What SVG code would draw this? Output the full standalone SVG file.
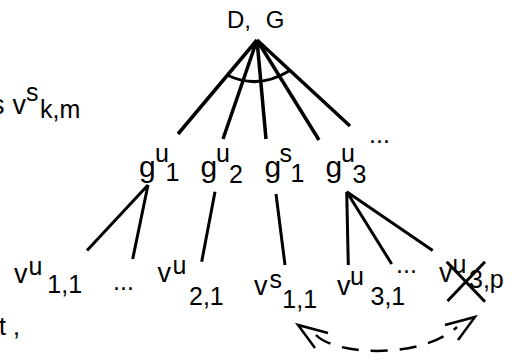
<svg xmlns="http://www.w3.org/2000/svg" width="514" height="360" viewBox="0 0 514 360">
<style>
text{font-family:"Liberation Sans",Arial,sans-serif;fill:#000;font-size:25px}
.g{font-size:30px}
.v{font-size:27px}
.e{stroke:#000;stroke-width:3;fill:none;stroke-linecap:butt}
.t{stroke-width:3.5}
.d{stroke:#000;stroke-width:2.5;fill:none;stroke-dasharray:17 12}
.h{stroke:#000;stroke-width:2.5;fill:none;stroke-linejoin:miter}
</style>
<rect width="514" height="360" fill="#fff"/>
<g id="connectors">
<path class="e t" d="M257,40L178,134M257,40L223,139M257,40L266,139M257,40L319,140M257,40L350,126"/>
<path class="e" d="M227,75Q258,90 289,71"/>
<path class="e" d="M148,185L87,250.5M148,185L132.7,259M215,191.7L201.7,261.7M276,194L285,265M346.7,191.7L348.3,265M346.7,191.7L391.7,264M346.7,191.7L432.7,250.5"/>
<path class="d" d="M316,335C335,355 420,360 457,327"/>
<path class="h" d="M328,333L298,325L315,348"/>
<path class="h" d="M445,325L475,317L458,340"/>
</g>
<g id="left-text">
<text class="v" x="-9" y="114">s</text>
<text><tspan class="v" x="12.5" y="114">v</tspan><tspan x="26" y="101">s</tspan><tspan x="40" y="118">k,m</tspan></text>
<text x="-1" y="335">t ,</text>
</g>
<g id="node-DG"><text x="227" y="28" style="font-size:24px;word-spacing:8px">D, G</text></g>
<g id="node-gu1"><text><tspan class="g" x="139" y="177">g</tspan><tspan x="155" y="162">u</tspan><tspan x="165.5" y="181">1</tspan></text></g>
<g id="node-gu2"><text><tspan class="g" x="200.5" y="177">g</tspan><tspan x="216" y="162">u</tspan><tspan x="229" y="183">2</tspan></text></g>
<g id="node-gs1"><text><tspan class="g" x="264.5" y="177">g</tspan><tspan x="279.5" y="162">s</tspan><tspan x="290.5" y="182">1</tspan></text></g>
<g id="node-gu3"><text><tspan class="g" x="325.5" y="177">g</tspan><tspan x="341" y="162">u</tspan><tspan x="352.5" y="183">3</tspan></text></g>
<g id="node-dots-g"><text x="369" y="143">...</text></g>
<g id="node-vu11"><text><tspan class="v" x="14" y="283">v</tspan><tspan x="28.5" y="275">u</tspan><tspan x="47.3" y="293">1,1</tspan></text></g>
<g id="node-dots-v1"><text x="113" y="290">...</text></g>
<g id="node-vu21"><text><tspan class="v" x="157.5" y="282">v</tspan><tspan x="172.5" y="274">u</tspan><tspan x="189" y="305">2,1</tspan></text></g>
<g id="node-vs11"><text><tspan class="v" x="254" y="295">v</tspan><tspan x="269.5" y="288">s</tspan><tspan x="282.3" y="308">1,1</tspan></text></g>
<g id="node-vu31"><text><tspan class="v" x="337" y="295">v</tspan><tspan x="350" y="285">u</tspan><tspan x="370.5" y="305">3,1</tspan></text></g>
<g id="node-dots-v3"><text x="396" y="273">...</text></g>
<g id="node-vu3p"><text><tspan class="v" x="439" y="282">v</tspan><tspan x="452.5" y="273">u</tspan><tspan x="469" y="288">3,p</tspan></text>
<path class="e" d="M446.7,261.7L485,301.7M485,261.7L447.5,301"/></g>
</svg>
